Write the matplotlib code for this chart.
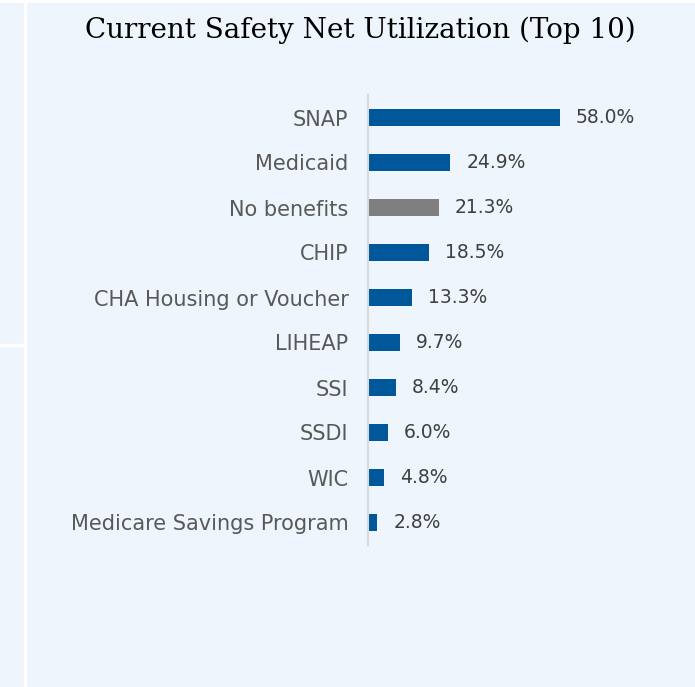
import matplotlib.pyplot as plt

categories = ["SNAP", "Medicaid", "No benefits", "CHIP", "CHA Housing or Voucher",
              "LIHEAP", "SSI", "SSDI", "WIC", "Medicare Savings Program"]
values = [58.0, 24.9, 21.3, 18.5, 13.3, 9.7, 8.4, 6.0, 4.8, 2.8]
colors = ["#7F7F7F" if c == "No benefits" else "#00589A" for c in categories]

bg = "#EEF5FC"
W, H = 695, 687

fig = plt.figure(figsize=(6.95, 6.87), dpi=100, facecolor=bg)

# white frame lines from the slide
fig.add_artist(plt.Line2D([25 / W, 25 / W], [0, 1], color="white", lw=2.5))
fig.add_artist(plt.Line2D([0, 25 / W], [1 - 345 / H, 1 - 345 / H], color="white", lw=2.5))
fig.add_artist(plt.Line2D([0, 1], [1 - 1 / H, 1 - 1 / H], color="white", lw=2))

ax = fig.add_axes([368 / W, 1 - 545 / H, 282 / W, 450 / H])
ax.set_facecolor(bg)
y = list(range(len(categories)))
ax.barh(y, values, height=0.36, color=colors)
ax.set_xlim(0, 282 / 3.31)
ax.set_ylim(len(categories) - 0.5, -0.5)

for i, v in enumerate(values):
    ax.text(v + 4.8, i, f"{v:.1f}%", va="center", ha="left",
            fontsize=13.5, color="#404040", family="DejaVu Sans")

ax.set_yticks(y)
ax.set_yticklabels(categories, fontsize=15, color="#595959", family="DejaVu Sans")
ax.tick_params(axis="y", length=0, pad=14)
ax.set_xticks([])
for s in ["top", "right", "bottom"]:
    ax.spines[s].set_visible(False)
ax.spines["left"].set_color("#D9D9D9")
ax.spines["left"].set_linewidth(1.5)

fig.text(360 / W, 1 - 30 / H, "Current Safety Net Utilization (Top 10)",
         ha="center", va="center", fontsize=20, family="DejaVu Serif", color="black")

fig.savefig("out.png", dpi=100, facecolor=bg)
